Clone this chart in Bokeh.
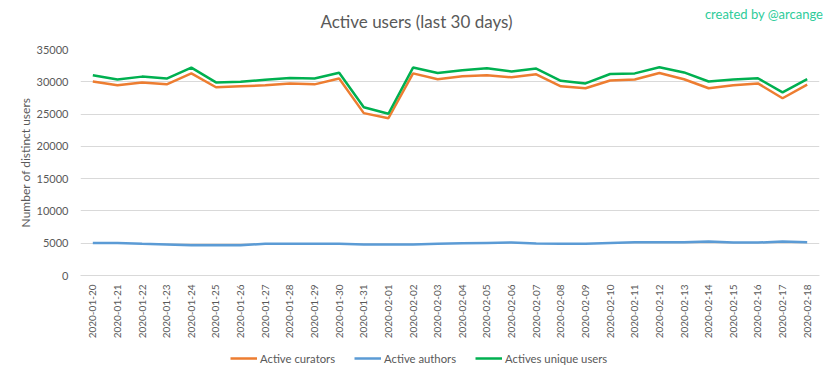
from bokeh.plotting import figure
from bokeh.models import (FactorRange, Range1d, FixedTicker, NumeralTickFormatter,
                          Legend, LegendItem, Div)
from bokeh.layouts import column
from bokeh.embed import file_html
from bokeh.resources import INLINE
from math import pi

dates = ["2020-01-20", "2020-01-21", "2020-01-22", "2020-01-23", "2020-01-24",
         "2020-01-25", "2020-01-26", "2020-01-27", "2020-01-28", "2020-01-29",
         "2020-01-30", "2020-01-31", "2020-02-01", "2020-02-02", "2020-02-03",
         "2020-02-04", "2020-02-05", "2020-02-06", "2020-02-07", "2020-02-08",
         "2020-02-09", "2020-02-10", "2020-02-11", "2020-02-12", "2020-02-13",
         "2020-02-14", "2020-02-15", "2020-02-16", "2020-02-17", "2020-02-18"]
curators = [30050, 29450, 29900, 29600, 31300, 29150, 29300, 29450, 29750, 29600,
            30500, 25150, 24350, 31300, 30400, 30850, 31000, 30700, 31150, 29300,
            29000, 30200, 30350, 31350, 30400, 29000, 29450, 29750, 27450, 29550]
authors = [5050, 5050, 4900, 4800, 4700, 4700, 4700, 4900, 4900, 4900,
           4900, 4800, 4800, 4800, 4900, 5000, 5050, 5100, 4950, 4900,
           4900, 5050, 5150, 5150, 5150, 5250, 5100, 5100, 5250, 5150]
unique = [31000, 30350, 30800, 30500, 32200, 29900, 30000, 30300, 30600, 30500,
          31400, 26050, 25050, 32200, 31350, 31800, 32100, 31600, 32050, 30150,
          29750, 31200, 31300, 32250, 31450, 30050, 30350, 30550, 28350, 30400]
series_names = ["Active curators", "Active authors", "Actives unique users"]
series_colors = ["#ED7D31", "#5B9BD5", "#00B050"]
y_ticks = [0, 5000, 10000, 15000, 20000, 25000, 30000, 35000]
title_text = "Active users (last 30 days)"
credit_text = "created by @arcange"

FONT = "Lato"
GREY = "#595959"
W = 833

header = Div(
    text=(f'<div style="position:relative;width:{W}px;height:41px;font-family:Lato;">'
          f'<div style="position:absolute;left:0;top:11px;width:{W}px;text-align:center;'
          f'font-size:17px;line-height:22px;color:{GREY};white-space:nowrap;">{title_text}</div>'
          f'<div style="position:absolute;right:10px;top:6px;font-size:13px;line-height:17px;'
          f'color:#2ecc9a;white-space:nowrap;">{credit_text}</div></div>'),
    width=W, height=41, margin=(0, 0, 0, 0))

p = figure(width=W, height=300, output_backend="svg", toolbar_location=None,
           x_range=FactorRange(factors=dates), y_range=Range1d(0, 35000),
           min_border_left=80, min_border_right=14, min_border_top=8,
           min_border_bottom=66, margin=(0, 0, 0, 0))
p.outline_line_color = None
p.background_fill_color = "white"
p.border_fill_color = "white"

for vals, col in zip([curators, authors, unique], series_colors):
    p.line(dates, vals, line_color=col, line_width=2.5)

# grids
p.xgrid.grid_line_color = None
p.ygrid.grid_line_color = "#d9d9d9"
p.ygrid.grid_line_width = 1

# y axis
p.yaxis.ticker = FixedTicker(ticks=y_ticks)
p.yaxis.formatter = NumeralTickFormatter(format="0")
p.yaxis.axis_line_color = None
p.yaxis.major_tick_line_color = None
p.yaxis.minor_tick_line_color = None
p.yaxis.major_tick_out = 0
p.yaxis.minor_tick_out = 0
p.yaxis.major_label_standoff = 12
p.yaxis.major_label_text_font = FONT
p.yaxis.major_label_text_font_size = "11px"
p.yaxis.major_label_text_color = GREY
p.yaxis.axis_label = "Number of distinct users"
p.yaxis.axis_label_text_font = FONT
p.yaxis.axis_label_text_font_size = "12px"
p.yaxis.axis_label_text_font_style = "normal"
p.yaxis.axis_label_text_color = GREY
p.yaxis.axis_label_standoff = 1

# x axis
p.xaxis.axis_line_color = "#d9d9d9"
p.xaxis.major_tick_line_color = None
p.xaxis.minor_tick_line_color = None
p.xaxis.major_tick_out = 0
p.xaxis.minor_tick_out = 0
p.xaxis.major_label_orientation = pi / 2
p.xaxis.major_label_standoff = 9
p.xaxis.major_label_text_font = FONT
p.xaxis.major_label_text_font_size = "10px"
p.xaxis.major_label_text_color = GREY

# legend strip (own small figure so the legend is not clipped);
# its frame is aligned with the main frame by the column layout
lf = figure(width=W, height=38, output_backend="svg", toolbar_location=None,
            x_range=Range1d(0, 1), y_range=Range1d(0, 1),
            x_axis_type=None, y_axis_type=None,
            min_border_left=0, min_border_right=0, min_border_top=0,
            min_border_bottom=0, margin=(0, 0, 0, 0))
lf.outline_line_color = None
lf.xgrid.visible = False
lf.ygrid.visible = False
lf.border_fill_color = "white"
items = []
for name, col in zip(series_names, series_colors):
    # single off-range point: draws nothing, only supplies the legend swatch style
    r = lf.line([-1], [-1], line_color=col, line_width=2.5)
    items.append(LegendItem(label=name, renderers=[r]))
legend = Legend(items=items, orientation="horizontal", location=(150, 12),
                glyph_width=27, glyph_height=18, label_height=18,
                label_standoff=3, spacing=19, padding=4, margin=0,
                label_text_font=FONT, label_text_font_size="11.3px",
                label_text_color=GREY, border_line_color=None,
                background_fill_alpha=0)
lf.add_layout(legend, "center")

layout = column(header, p, lf, spacing=0, margin=(0, 0, 0, 0))

open("out.html", "w").write(file_html(layout, INLINE))
